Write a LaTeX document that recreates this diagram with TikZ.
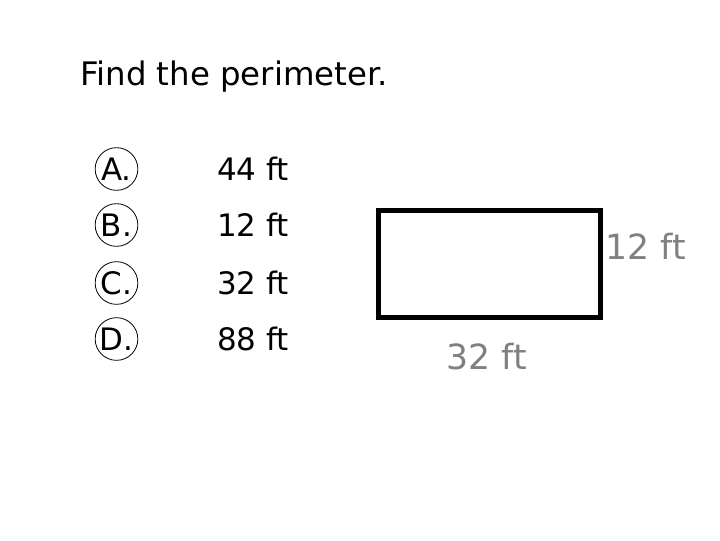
\documentclass[tikz,border=0pt]{standalone}
\usepackage{fontspec}
\setmainfont{DejaVu Sans}
\usepackage{tikz}

\definecolor{dimgray}{RGB}{128,128,128}

\tikzset{
  choice/.style={draw,circle,line width=0.6pt,inner sep=0pt,minimum size=32pt,font=\fontsize{23.2}{26}\selectfont},
  answer/.style={anchor=base west,inner sep=0pt,font=\fontsize{23.2}{26}\selectfont},
  dimlabel/.style={anchor=base west,inner sep=0pt,text=dimgray,font=\fontsize{26}{30}\selectfont}
}

\begin{document}
\begin{tikzpicture}[x=0.75pt,y=0.75pt,yscale=-1,xscale=1]
\useasboundingbox (0,0) rectangle (720,540);

% Text Node
\node (title) [anchor=base west,inner sep=0pt,font=\fontsize{24.3}{28}\selectfont] at (80,85) {Find the perimeter.};

% choices
\node (optA) [choice] at (116.5,169) {A.};
\node (optB) [choice] at (116.5,225) {B.};
\node (optC) [choice] at (116.5,283) {C.};
\node (optD) [choice] at (116.5,339) {D.};

% Text Node
\node (ansA) [answer] at (217,180) {44 ft};
% Text Node
\node (ansB) [answer] at (217,236) {12 ft};
% Text Node
\node (ansC) [answer] at (217,294) {32 ft};
% Text Node
\node (ansD) [answer] at (217,350) {88 ft};

%Shape: Rectangle
\draw [line width=3.75pt] (378.5,210.5) rectangle (600.5,317.5);

% Text Node
\node (side) [dimlabel] at (605,259) {12 ft};
% Text Node
\node (base) [dimlabel] at (446,369) {32 ft};

\end{tikzpicture}
\end{document}
